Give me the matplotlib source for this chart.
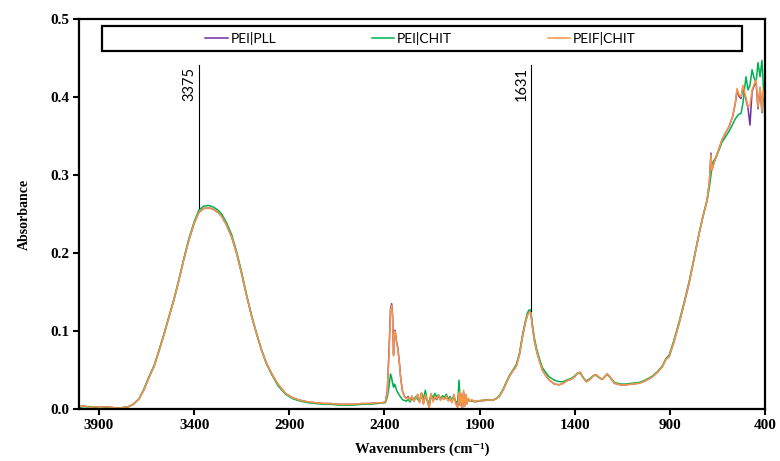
import numpy as np
import matplotlib
matplotlib.use("Agg")
import matplotlib.pyplot as plt
from matplotlib.patches import Rectangle

# ---------------- data ----------------
# O-H band region, 4005 -> 2410 cm-1
wn_oh = [4005, 3980, 3950, 3920, 3890, 3860, 3830, 3800, 3770, 3745,
         3720, 3690, 3665, 3638, 3610, 3585, 3560, 3533, 3505, 3480,
         3455, 3428, 3400, 3375, 3350, 3325, 3300, 3275, 3255, 3230,
         3202, 3175, 3150, 3125, 3097, 3070, 3045, 3020, 2992, 2960,
         2920, 2880, 2840, 2800, 2760, 2720, 2680, 2640, 2600, 2560,
         2520, 2480, 2440, 2410]
oh_common = [0.003, 0.004, 0.002, 0.003, 0.002, 0.003, 0.002, 0.001, 0.002, 0.003,
             0.006, 0.013, 0.024, 0.040, 0.055, 0.074, 0.094, 0.117, 0.141, 0.165,
             0.191, 0.216, 0.238, 0.252, 0.257, 0.258, 0.256, 0.252, 0.247, 0.236,
             0.220, 0.198, 0.173, 0.146, 0.118, 0.095, 0.075, 0.059, 0.045, 0.032,
             0.020, 0.014, 0.011, 0.009, 0.008, 0.007, 0.007, 0.006, 0.006, 0.006,
             0.007, 0.007, 0.008, 0.008]
oh_chit = [0.002, 0.003, 0.003, 0.002, 0.002, 0.002, 0.001, 0.001, 0.002, 0.003,
           0.006, 0.013, 0.025, 0.041, 0.056, 0.075, 0.095, 0.118, 0.142, 0.166,
           0.192, 0.218, 0.240, 0.255, 0.260, 0.261, 0.259, 0.255, 0.250, 0.239,
           0.223, 0.200, 0.175, 0.147, 0.119, 0.095, 0.075, 0.058, 0.044, 0.030,
           0.019, 0.013, 0.010, 0.008, 0.007, 0.006, 0.006, 0.005, 0.005, 0.005,
           0.006, 0.006, 0.007, 0.008]

# CO2 / noisy region, 2395 -> 1850 cm-1
wn_co2 = [2395, 2385, 2375, 2368, 2362, 2357, 2352, 2348, 2344, 2340,
          2336, 2330, 2322, 2314, 2305, 2295, 2285, 2275, 2265, 2255,
          2245, 2235, 2225, 2215, 2205, 2195, 2185, 2175, 2165, 2155,
          2145, 2135, 2125, 2115, 2105, 2095, 2085, 2075, 2065, 2055,
          2045, 2035, 2025, 2015, 2008, 2002, 1996, 1990, 1984, 1978,
          1972, 1966, 1960, 1950, 1940, 1925, 1910, 1895, 1880, 1865, 1850]
co2_pll = [0.009, 0.022, 0.080, 0.128, 0.135, 0.120, 0.070, 0.097, 0.101, 0.093,
           0.086, 0.079, 0.061, 0.039, 0.023, 0.016, 0.014, 0.016, 0.011, 0.016,
           0.010, 0.015, 0.018, 0.009, 0.020, 0.007, 0.017, 0.011, 0.002, 0.019,
           0.010, 0.015, 0.012, 0.017, 0.012, 0.014, 0.013, 0.016, 0.011, 0.013,
           0.009, 0.018, 0.007, 0.003, 0.021, 0.005, 0.019, 0.001, 0.022, 0.004,
           0.018, 0.007, 0.013, 0.010, 0.011, 0.009, 0.010, 0.010, 0.011, 0.011, 0.012]
co2_chit = [0.008, 0.015, 0.030, 0.045, 0.040, 0.033, 0.028, 0.032, 0.031, 0.027,
            0.024, 0.021, 0.018, 0.015, 0.012, 0.011, 0.010, 0.012, 0.009, 0.014,
            0.011, 0.016, 0.012, 0.010, 0.020, 0.013, 0.024, 0.011, 0.008, 0.019,
            0.014, 0.020, 0.016, 0.018, 0.013, 0.017, 0.015, 0.019, 0.013, 0.016,
            0.011, 0.015, 0.010, 0.008, 0.037, 0.012, 0.016, 0.005, 0.017, 0.008,
            0.015, 0.009, 0.012, 0.011, 0.010, 0.010, 0.010, 0.011, 0.011, 0.012, 0.012]
co2_peif = [0.009, 0.020, 0.075, 0.125, 0.133, 0.118, 0.068, 0.095, 0.100, 0.092,
            0.085, 0.078, 0.060, 0.038, 0.022, 0.016, 0.013, 0.015, 0.011, 0.017,
            0.010, 0.014, 0.019, 0.008, 0.021, 0.006, 0.018, 0.012, 0.001, 0.020,
            0.009, 0.016, 0.013, 0.018, 0.011, 0.015, 0.012, 0.017, 0.010, 0.014,
            0.008, 0.019, 0.006, 0.002, 0.022, 0.004, 0.020, 0.000, 0.024, 0.003,
            0.019, 0.006, 0.014, 0.010, 0.012, 0.009, 0.011, 0.010, 0.012, 0.011, 0.012]

# amide / fingerprint region, 1835 -> 920 cm-1
wn_am = [1835, 1815, 1796, 1775, 1755, 1743, 1725, 1707, 1690, 1675,
         1660, 1649, 1640, 1631, 1622, 1612, 1600, 1586, 1570, 1550,
         1533, 1507, 1481, 1460, 1444, 1420, 1402, 1385, 1371, 1355,
         1339, 1320, 1300, 1287, 1270, 1255, 1240, 1229, 1212, 1192,
         1160, 1130, 1100, 1061, 1030, 993, 965, 940, 920]
am_common = [0.011, 0.013, 0.016, 0.025, 0.036, 0.042, 0.049, 0.055, 0.070, 0.092,
             0.110, 0.120, 0.124, 0.124, 0.105, 0.088, 0.074, 0.062, 0.050, 0.042,
             0.037, 0.032, 0.031, 0.033, 0.036, 0.038, 0.041, 0.046, 0.047, 0.040,
             0.035, 0.038, 0.043, 0.044, 0.040, 0.038, 0.042, 0.045, 0.040, 0.033,
             0.031, 0.031, 0.032, 0.033, 0.036, 0.041, 0.047, 0.054, 0.064]
am_chit = [0.011, 0.013, 0.017, 0.026, 0.037, 0.043, 0.050, 0.057, 0.072, 0.094,
           0.112, 0.123, 0.127, 0.127, 0.108, 0.091, 0.077, 0.065, 0.053, 0.046,
           0.041, 0.037, 0.035, 0.035, 0.037, 0.039, 0.042, 0.046, 0.046, 0.040,
           0.036, 0.039, 0.043, 0.043, 0.040, 0.038, 0.042, 0.044, 0.040, 0.034,
           0.032, 0.032, 0.033, 0.034, 0.037, 0.042, 0.048, 0.055, 0.065]

# low wavenumber region, 904 -> 400 cm-1
wn_low = [904, 880, 851, 825, 799, 775, 746, 725, 704, 692,
          684, 679, 670, 657, 640, 626, 605, 589, 570, 556,
          547, 537, 526, 516, 500, 489, 479, 468, 458, 447,
          437, 426, 416, 410, 400]
low_pll = [0.067, 0.085, 0.110, 0.135, 0.161, 0.190, 0.225, 0.248, 0.268, 0.292,
           0.328, 0.306, 0.314, 0.323, 0.335, 0.345, 0.355, 0.362, 0.375, 0.392,
           0.408, 0.401, 0.398, 0.413, 0.397, 0.385, 0.364, 0.407, 0.414, 0.420,
           0.385, 0.411, 0.380, 0.405, 0.392]
low_chit = [0.069, 0.087, 0.112, 0.137, 0.163, 0.191, 0.226, 0.248, 0.268, 0.285,
            0.300, 0.313, 0.318, 0.323, 0.333, 0.342, 0.350, 0.356, 0.365, 0.372,
            0.375, 0.378, 0.379, 0.392, 0.426, 0.409, 0.415, 0.435, 0.425, 0.418,
            0.444, 0.426, 0.447, 0.420, 0.367]
low_peif = [0.067, 0.085, 0.110, 0.135, 0.161, 0.190, 0.225, 0.248, 0.268, 0.292,
            0.326, 0.306, 0.314, 0.323, 0.335, 0.345, 0.355, 0.362, 0.375, 0.392,
            0.411, 0.403, 0.400, 0.415, 0.399, 0.387, 0.390, 0.409, 0.416, 0.422,
            0.387, 0.413, 0.381, 0.409, 0.395]

labels = ["PEI|PLL", "PEI|CHIT", "PEIF|CHIT"]
colors = ["#7030A0", "#00B050", "#F79646"]
peaks = [3375, 1631]
peak_tops = [0.258, 0.126]

# ---------------- assemble ----------------
wn = np.concatenate([wn_oh, wn_co2, wn_am, wn_low])
series = [
    np.concatenate([oh_common, co2_pll, am_common, low_pll]),
    np.concatenate([oh_chit, co2_chit, am_chit, low_chit]),
    np.concatenate([oh_common, co2_peif, am_common, low_peif]),
]

# ---------------- plot ----------------
serif = ["Liberation Serif", "DejaVu Serif"]
sans = ["Lato", "DejaVu Sans"]

fig = plt.figure(figsize=(7.8, 4.61), dpi=100)
ax = fig.add_axes([79 / 780, 1 - 409 / 461, 686 / 780, 390 / 461])

for y, lab, col in zip(series, labels, colors):
    ax.plot(wn, y, color=col, lw=1.1, label=lab)

for p, top in zip(peaks, peak_tops):
    ax.plot([p, p], [top, 0.441], color="black", lw=0.8)
    ax.annotate(str(p), xy=(p, 0.438), xytext=(-1.5, 0), textcoords="offset points",
                rotation=90, ha="right", va="top", fontsize=10.5, family=sans)

ax.set_xlim(4005, 400)
ax.set_ylim(0, 0.5)
ax.set_xticks(np.arange(3900, 399, -500))
ax.set_yticks(np.arange(0, 0.51, 0.1))
ax.set_yticklabels([f"{v:.1f}" for v in np.arange(0, 0.51, 0.1)])

for s in ax.spines.values():
    s.set_linewidth(1.6)
ax.tick_params(direction="out", length=4, width=1.5, pad=3)
for t in ax.get_xticklabels() + ax.get_yticklabels():
    t.set_fontfamily(serif)
    t.set_fontweight("bold")
    t.set_fontsize(11)

ax.set_xlabel("Wavenumbers (cm\u207b\u00b9)", family=serif, fontweight="bold",
              fontsize=10.5, labelpad=8)
ax.set_ylabel("Absorbance", family=serif, fontweight="bold", fontsize=10, labelpad=14)

# legend in a framed box across the top
box = Rectangle((0.0335, 0.918), 0.933, 0.064, transform=ax.transAxes,
                fill=False, edgecolor="black", lw=1.6, zorder=5)
ax.add_patch(box)
ax.legend(loc="center", bbox_to_anchor=(0.498, 0.950), ncol=3, frameon=False,
          handlelength=1.6, handletextpad=0.2, columnspacing=6.9,
          prop={"family": sans, "size": 10})

fig.savefig("out.png", dpi=100)
